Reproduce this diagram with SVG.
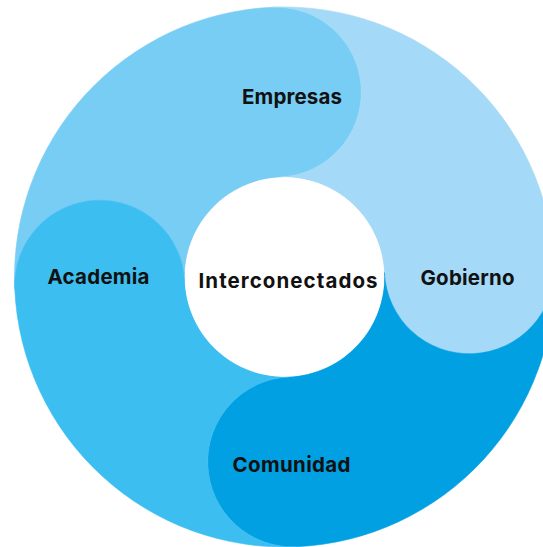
<svg xmlns="http://www.w3.org/2000/svg" width="543" height="547" viewBox="0 0 543 547">
<style>
.seg{stroke-width:0.6;stroke-linejoin:round}
.lbl{font-family:Inter,"Liberation Sans",sans-serif;font-weight:700;font-size:20.5px;fill:#111111;text-anchor:middle}
</style>
<rect width="543" height="547" fill="#ffffff"/>
<g id="empresas">
<path class="seg" fill="#78CDF5" stroke="#78CDF5" d="M14.757,288.777 A270,270 0 0 1 272.723,7.257 A85,85 0 0 1 280.138,177.095 A100,100 0 0 0 184.595,281.362 A85,85 0 0 0 14.757,288.777 Z"/>
<text class="lbl" x="292" y="104" textLength="100" lengthAdjust="spacing">Empresas</text>
</g>
<g id="gobierno">
<path class="seg" fill="#A4D9F7" stroke="#A4D9F7" d="M272.723,7.257 A270,270 0 0 1 554.243,265.223 A85,85 0 0 1 384.405,272.638 A100,100 0 0 0 280.138,177.095 A85,85 0 0 0 272.723,7.257 Z"/>
<text class="lbl" x="467.5" y="285" textLength="94" lengthAdjust="spacing">Gobierno</text>
</g>
<g id="comunidad">
<path class="seg" fill="#00A0E3" stroke="#00A0E3" d="M554.243,265.223 A270,270 0 0 1 296.277,546.743 A85,85 0 0 1 288.862,376.905 A100,100 0 0 0 384.405,272.638 A85,85 0 0 0 554.243,265.223 Z"/>
<text class="lbl" x="291.5" y="472" textLength="118" lengthAdjust="spacing">Comunidad</text>
</g>
<g id="academia">
<path class="seg" fill="#3CBEF0" stroke="#3CBEF0" d="M296.277,546.743 A270,270 0 0 1 14.757,288.777 A85,85 0 0 1 184.595,281.362 A100,100 0 0 0 288.862,376.905 A85,85 0 0 0 296.277,546.743 Z"/>
<text class="lbl" x="98.5" y="284" textLength="102" lengthAdjust="spacing">Academia</text>
</g>
<g id="interconectados">
<circle cx="284.5" cy="277" r="99.7" fill="#ffffff"/>
<text class="lbl" x="288" y="287.5" textLength="179" lengthAdjust="spacing">Interconectados</text>
</g>
<g id="connectors"></g>
</svg>
